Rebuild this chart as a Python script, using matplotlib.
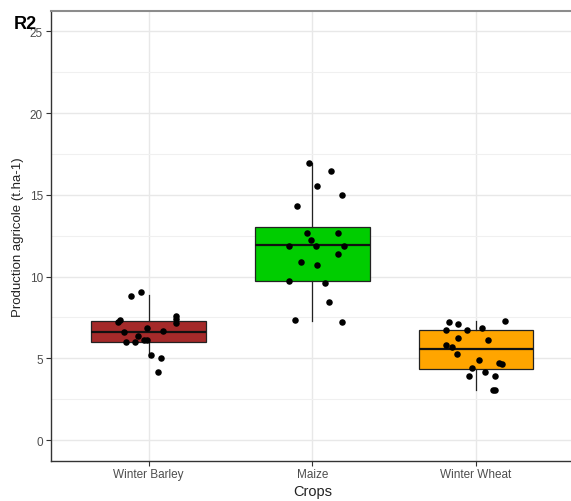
import matplotlib
matplotlib.use("Agg")
import matplotlib.pyplot as plt
from matplotlib.ticker import MultipleLocator

plt.rcParams['font.family'] = ['Liberation Sans', 'DejaVu Sans']

categories = ["Winter Barley", "Maize", "Winter Wheat"]
colors = ["#A52A2A", "#00CD00", "#FFA500"]

# box statistics
q1 = [6.02, 9.72, 4.33]
med = [6.60, 11.94, 5.55]
q3 = [7.30, 13.06, 6.74]
whislo = [5.06, 7.27, 3.08]
whishi = [8.88, 16.96, 7.29]

# jittered points (values and horizontal offsets)
barley_y = [8.84, 9.08, 7.21, 7.35, 7.61, 7.41, 7.16, 6.86, 6.63, 6.67, 6.39,
            6.02, 6.02, 6.12, 6.10, 5.20, 5.02, 4.15]
barley_dx = [-0.11, -0.045, -0.19, -0.175, 0.165, 0.165, 0.165, -0.012, -0.15,
             0.087, -0.065, -0.138, -0.085, -0.029, -0.012, 0.012, 0.073, 0.059]
maize_y = [16.96, 16.45, 15.55, 15.02, 14.31, 12.68, 12.68, 12.23, 11.90, 11.90,
           11.90, 11.37, 10.92, 10.72, 9.76, 9.61, 8.45, 7.33, 7.21]
maize_dx = [-0.018, 0.114, 0.029, 0.181, -0.091, -0.030, 0.157, -0.006, -0.140,
            0.020, 0.197, 0.157, -0.071, 0.032, -0.142, 0.079, 0.104, -0.104, 0.181]
wheat_y = [7.21, 7.08, 7.27, 6.74, 6.74, 6.88, 6.23, 6.10, 5.84, 5.70, 5.27,
           4.92, 4.70, 4.64, 4.41, 4.16, 3.94, 3.90, 3.06, 3.06]
wheat_dx = [-0.163, -0.112, 0.181, -0.183, -0.053, 0.038, -0.112, 0.077, -0.183,
            -0.145, -0.118, 0.018, 0.140, 0.157, -0.023, 0.057, -0.041, 0.116,
            0.102, 0.116]

yticks = [0, 5, 10, 15, 20, 25]

fig = plt.figure(figsize=(5.71, 5.02), dpi=100)
W, H = 571, 502
ax = fig.add_axes([50.5 / W, (H - 461.5) / H, (574 - 50.5) / W, (461.5 - 12) / H])

stats = []
for i in range(3):
    stats.append(dict(med=med[i], q1=q1[i], q3=q3[i], whislo=whislo[i],
                      whishi=whishi[i], fliers=[], label=categories[i]))
pos = [1, 2, 3]
bp = ax.bxp(stats, positions=pos, widths=0.7, patch_artist=True, showcaps=False,
            showfliers=False,
            boxprops=dict(edgecolor="#222222", linewidth=0.9),
            whiskerprops=dict(color="#222222", linewidth=0.9),
            medianprops=dict(color="#111111", linewidth=1.6))
for patch, c in zip(bp['boxes'], colors):
    patch.set_facecolor(c)
    patch.set_zorder(2)
for l in bp['whiskers'] + bp['medians']:
    l.set_zorder(2.5)

for i, (ys, dxs) in enumerate([(barley_y, barley_dx), (maize_y, maize_dx),
                               (wheat_y, wheat_dx)]):
    xs = [pos[i] + d for d in dxs]
    ax.scatter(xs, ys, s=22, color="black", zorder=3, linewidths=0)

ax.set_xlim(0.4, 3.6)
ax.set_ylim(-1.25, 26.25)
ax.set_xticks(pos)
ax.set_xticklabels(categories)
ax.set_yticks(yticks)
ax.yaxis.set_minor_locator(MultipleLocator(2.5))
ax.grid(True, which='major', color="#E8E8E8", linewidth=1.0)
ax.grid(True, which='minor', axis='y', color="#F0F0F0", linewidth=0.8)
ax.set_axisbelow(True)
ax.tick_params(axis='both', which='major', labelsize=8.5, colors="#333333",
               labelcolor="#4D4D4D", length=3.5, width=0.8, pad=2)
ax.tick_params(axis='y', which='minor', length=0)

for side in ['left', 'bottom']:
    ax.spines[side].set_color("#333333")
    ax.spines[side].set_linewidth(1.0)
ax.spines['top'].set_color("#8C8C8C")
ax.spines['top'].set_linewidth(1.5)
ax.spines['right'].set_color("#8C8C8C")

ax.set_xlabel("Crops", fontsize=10.5, color="#222222", labelpad=3)
ax.set_ylabel("Production agricole (t.ha-1)", fontsize=9.5, color="#222222", labelpad=4)

fig.text(14 / W, 1 - 29 / H, "R2", fontsize=13, fontweight='bold', color="black",
         ha='left', va='baseline')

fig.savefig("out.png", dpi=100)
